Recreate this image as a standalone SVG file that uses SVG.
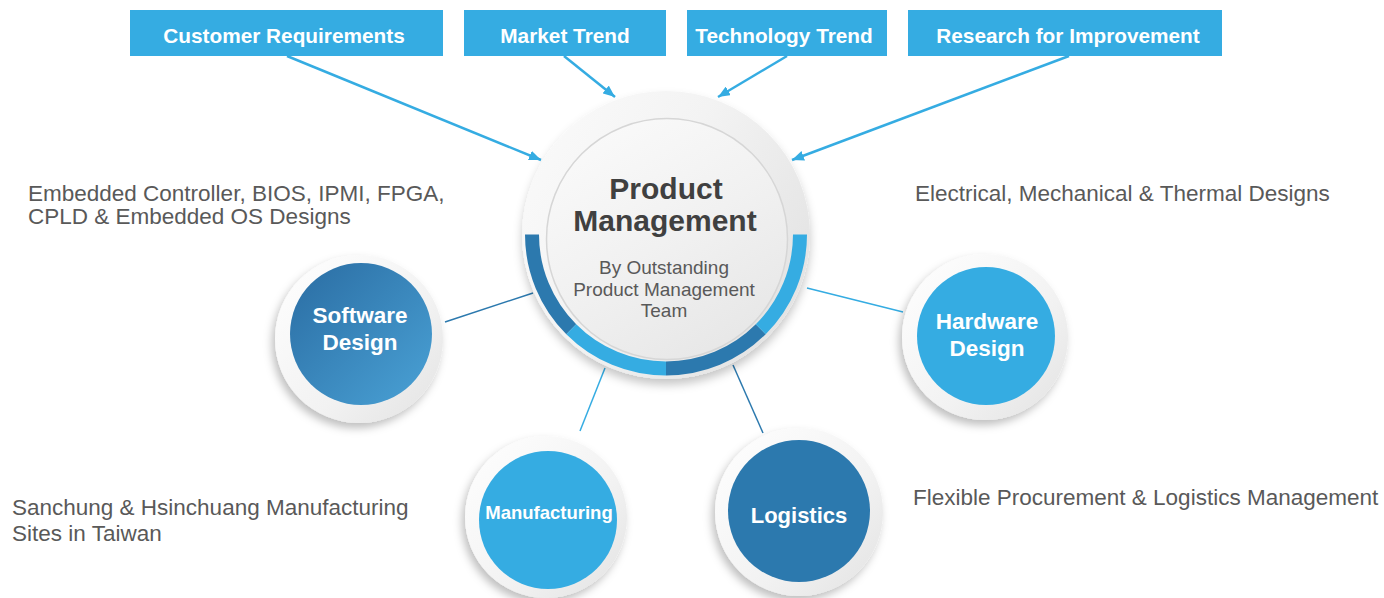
<svg xmlns="http://www.w3.org/2000/svg" width="1384" height="598" viewBox="0 0 1384 598">
  <defs>
    <style>
      .box { fill: #35ACE2; }
      .boxtxt { font-family: "Liberation Sans", Arial, sans-serif; font-weight: bold; font-size: 20.8px; fill: #ffffff; text-anchor: middle; }
      .arrow { stroke: #35ACE2; stroke-width: 2.5; fill: none; marker-end: url(#ah); }
      .link-dark { stroke: #2C79AE; stroke-width: 1.5; fill: none; }
      .link-light { stroke: #35ACE2; stroke-width: 1.5; fill: none; }
      .desc { font-family: "Liberation Sans", Arial, sans-serif; font-size: 22.5px; fill: #595959; }
      .sattxt { font-family: "Liberation Sans", Arial, sans-serif; font-weight: bold; fill: #ffffff; text-anchor: middle; }
      .title { font-family: "Liberation Sans", Arial, sans-serif; font-weight: bold; font-size: 30px; fill: #404040; text-anchor: middle; }
      .sub { font-family: "Liberation Sans", Arial, sans-serif; font-size: 19px; fill: #595959; text-anchor: middle; }
      .ring { fill: url(#ringGrad); filter: url(#shadow); }
    </style>
    <marker id="ah" viewBox="0 0 12 10" refX="12" refY="5" markerWidth="12" markerHeight="10" markerUnits="userSpaceOnUse" orient="auto">
      <path d="M0,0 L12,5 L0,10 Z" fill="#35ACE2"/>
    </marker>
    <linearGradient id="ringGrad" x1="0" y1="0" x2="1" y2="1">
      <stop offset="0" stop-color="#ffffff"/>
      <stop offset="0.6" stop-color="#f2f2f2"/>
      <stop offset="1" stop-color="#e2e2e2"/>
    </linearGradient>
    <linearGradient id="centerOuter" x1="0" y1="0" x2="1" y2="0.6">
      <stop offset="0" stop-color="#fbfbfb"/>
      <stop offset="0.5" stop-color="#f3f3f3"/>
      <stop offset="1" stop-color="#e4e4e4"/>
    </linearGradient>
    <linearGradient id="centerInner" x1="0.2" y1="0" x2="0.8" y2="1">
      <stop offset="0" stop-color="#fafafa"/>
      <stop offset="0.5" stop-color="#f1f1f1"/>
      <stop offset="1" stop-color="#e6e6e6"/>
    </linearGradient>
    <linearGradient id="swGrad" x1="0" y1="0" x2="1" y2="1">
      <stop offset="0" stop-color="#2A6CA2"/>
      <stop offset="1" stop-color="#4AA2D6"/>
    </linearGradient>
    <filter id="shadow" x="-30%" y="-30%" width="160%" height="160%">
      <feDropShadow dx="-3" dy="5" stdDeviation="4" flood-color="#000000" flood-opacity="0.25"/>
    </filter>
    <filter id="cshadow" x="-30%" y="-30%" width="160%" height="160%">
      <feDropShadow dx="0" dy="6" stdDeviation="5" flood-color="#000000" flood-opacity="0.22"/>
    </filter>
  </defs>

  <rect width="1384" height="598" fill="#ffffff"/>

  <!-- Connectors -->
  <g id="connectors">
    <line class="arrow" x1="287" y1="56" x2="541" y2="160"/>
    <line class="arrow" x1="564" y1="56" x2="615" y2="97"/>
    <line class="arrow" x1="787" y1="56" x2="718" y2="97"/>
    <line class="arrow" x1="1069" y1="56" x2="792" y2="160"/>
    <line class="link-dark" x1="445" y1="322" x2="533" y2="293"/>
    <line class="link-light" x1="807" y1="288" x2="903" y2="312"/>
    <line class="link-light" x1="605" y1="368" x2="580" y2="431"/>
    <line class="link-dark" x1="733" y1="365" x2="763" y2="433"/>
  </g>

  <!-- Top input boxes -->
  <g id="customer-requirements">
    <rect class="box" x="130" y="10" width="313" height="46"/>
    <text class="boxtxt" x="284" y="43">Customer Requirements</text>
  </g>
  <g id="market-trend">
    <rect class="box" x="464" y="10" width="202" height="46"/>
    <text class="boxtxt" x="565" y="43">Market Trend</text>
  </g>
  <g id="technology-trend">
    <rect class="box" x="687" y="10" width="200" height="46"/>
    <text class="boxtxt" x="784" y="43">Technology Trend</text>
  </g>
  <g id="research-improvement">
    <rect class="box" x="908" y="10" width="314" height="46"/>
    <text class="boxtxt" x="1068" y="43">Research for Improvement</text>
  </g>

  <!-- Central node -->
  <g id="product-management">
    <circle cx="666" cy="235" r="144" fill="url(#centerOuter)" filter="url(#cshadow)"/>
    <path d="M525,234.5 A141,141 0 0 0 566.3,334.2 L576.2,324.3 A127,127 0 0 1 539,234.5 Z" fill="#2C79AE"/>
    <path d="M566.3,334.2 A141,141 0 0 0 666,375.5 L666,361.5 A127,127 0 0 1 576.2,324.3 Z" fill="#35ACE2"/>
    <path d="M666,375.5 A141,141 0 0 0 765.7,334.2 L755.8,324.3 A127,127 0 0 1 666,361.5 Z" fill="#2C79AE"/>
    <path d="M765.7,334.2 A141,141 0 0 0 807,234.5 L793,234.5 A127,127 0 0 1 755.8,324.3 Z" fill="#35ACE2"/>
    <circle cx="667" cy="239" r="120.5" fill="url(#centerInner)" stroke="#d6d6d6" stroke-width="1.5"/>
    <text class="title" x="666" y="199">Product</text>
    <text class="title" x="665" y="231">Management</text>
    <text class="sub" x="664" y="274">By Outstanding</text>
    <text class="sub" x="664" y="295.5">Product Management</text>
    <text class="sub" x="664" y="317">Team</text>
  </g>

  <!-- Software Design -->
  <g id="software-design">
    <circle class="ring" cx="359" cy="339" r="84"/>
    <circle cx="361" cy="334" r="71" fill="url(#swGrad)"/>
    <text class="sattxt" x="360" y="323" font-size="22.5px">Software</text>
    <text class="sattxt" x="360" y="350" font-size="22.5px">Design</text>
  </g>

  <!-- Hardware Design -->
  <g id="hardware-design">
    <circle class="ring" cx="985" cy="337" r="83"/>
    <circle cx="986" cy="336" r="69" fill="#35ACE2"/>
    <text class="sattxt" x="987" y="329" font-size="22.5px">Hardware</text>
    <text class="sattxt" x="987" y="356" font-size="22.5px">Design</text>
  </g>

  <!-- Manufacturing -->
  <g id="manufacturing">
    <circle class="ring" cx="546" cy="517" r="81"/>
    <circle cx="548" cy="520" r="69" fill="#35ACE2"/>
    <text class="sattxt" x="549" y="519" font-size="18.5px">Manufacturing</text>
  </g>

  <!-- Logistics -->
  <g id="logistics">
    <circle class="ring" cx="799" cy="512" r="84"/>
    <circle cx="799" cy="511" r="71" fill="#2C79AE"/>
    <text class="sattxt" x="799" y="523" font-size="22px">Logistics</text>
  </g>

  <!-- Descriptions -->
  <g id="descriptions">
    <text class="desc" x="28" y="201">Embedded Controller, BIOS, IPMI, FPGA,</text>
    <text class="desc" x="28" y="224">CPLD &amp; Embedded OS Designs</text>
    <text class="desc" x="915" y="201">Electrical, Mechanical &amp; Thermal Designs</text>
    <text class="desc" x="12" y="515">Sanchung &amp; Hsinchuang Manufacturing</text>
    <text class="desc" x="12" y="541">Sites in Taiwan</text>
    <text class="desc" x="913" y="505">Flexible Procurement &amp; Logistics Management</text>
  </g>
</svg>
